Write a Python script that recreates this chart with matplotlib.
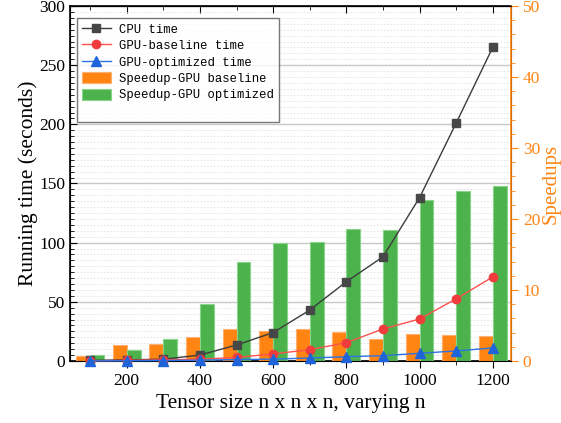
import numpy as np
import matplotlib.pyplot as plt
from matplotlib.lines import Line2D
from matplotlib.ticker import MultipleLocator

# Datos
sizes = [100, 200, 300, 400, 500, 600, 700, 800, 900, 1000, 1100, 1200]
cpu_time = [0.5, 1.0, 1.5, 5.0, 13.5, 24.0, 43.0, 67.0, 88.0, 138.0, 201.0, 265.0]
gpu_base_time = [0.2, 0.5, 1.0, 1.5, 3.0, 6.0, 9.5, 15.5, 27.0, 35.5, 52.5, 71.0]
gpu_opt_time = [0.1, 0.2, 0.4, 0.7, 1.2, 1.6, 2.5, 3.6, 4.5, 6.5, 8.5, 11.0]
speedup_base = [0.75, 2.25, 2.35, 3.4, 4.45, 4.2, 4.45, 4.15, 3.15, 3.75, 3.7, 3.5]
speedup_opt = [0.8, 1.55, 3.1, 8.0, 13.9, 16.65, 16.75, 18.6, 18.4, 22.7, 24.0, 24.6]

ORANGE = "#ff8412"
GREEN = "#4cb24c"
serif = "Liberation Serif"

fig = plt.figure(figsize=(5.61, 4.23), dpi=100)
ax1 = fig.add_axes([0.1248, 0.1466, 0.7861, 0.8392])

# Eje izquierdo: solo rejilla y etiquetas
ax1.set_xlim(45, 1250)
ax1.set_ylim(0, 300)
ax1.yaxis.set_major_locator(MultipleLocator(50))
ax1.yaxis.set_minor_locator(MultipleLocator(5))
ax1.xaxis.set_major_locator(MultipleLocator(200))
ax1.xaxis.set_minor_locator(MultipleLocator(100))
ax1.grid(True, which="major", axis="y", color="#c8c8c8", lw=1.0)
ax1.grid(True, which="minor", axis="y", color="#e2e2e2", lw=0.6, linestyle=(0, (2, 2)))
ax1.set_axisbelow(True)
ax1.tick_params(axis="y", which="both", direction="in", left=True, right=False)
ax1.tick_params(axis="y", which="major", length=5)
ax1.tick_params(axis="y", which="minor", length=3)
ax1.tick_params(axis="x", which="both", direction="out", bottom=True)
ax1.tick_params(axis="x", which="major", length=5)
ax1.tick_params(axis="x", which="minor", length=3)
ax1.tick_params(labelsize=12.5)
for lab in ax1.get_xticklabels() + ax1.get_yticklabels():
    lab.set_fontfamily(serif)
ax1.set_xlabel("Tensor size n x n x n, varying n", fontsize=15.5, family=serif)
ax1.set_ylabel("Running time (seconds)", fontsize=15.5, family=serif, labelpad=1)

# Ticks superiores hacia dentro
top = ax1.secondary_xaxis("top")
top.xaxis.set_major_locator(MultipleLocator(200))
top.xaxis.set_minor_locator(MultipleLocator(100))
top.tick_params(which="both", direction="in", labeltop=False)
top.tick_params(which="major", length=5)
top.tick_params(which="minor", length=3)

# Eje derecho: barras de speedup
ax2 = ax1.twinx()
w = 38
x = np.array(sizes)
ax2.bar(x - w / 2, speedup_base, width=w, color=ORANGE, edgecolor="#ffb070", lw=0.8,
        label="Speedup-GPU baseline")
ax2.bar(x + w / 2, speedup_opt, width=w, color=GREEN, edgecolor="#88d488", lw=0.8,
        label="Speedup-GPU optimized")
ax2.set_ylim(0, 50)
ax2.yaxis.set_major_locator(MultipleLocator(10))
ax2.yaxis.set_minor_locator(MultipleLocator(2))
ax2.tick_params(axis="y", which="both", colors=ORANGE, direction="out")
ax2.tick_params(axis="y", which="major", length=5)
ax2.tick_params(axis="y", which="minor", length=3)
ax2.tick_params(labelsize=12.5)
for lab in ax2.get_yticklabels():
    lab.set_fontfamily(serif)
ax2.spines["right"].set_color(ORANGE)
ax2.spines["right"].set_linewidth(1.2)
ax2.set_ylabel("Speedups", fontsize=15, family=serif, color=ORANGE, labelpad=1)

# Lineas por encima de las barras
ax3 = ax1.twinx()
ax3.set_ylim(0, 300)
ax3.set_axis_off()
ax3.plot(sizes, cpu_time, color="#3c3c3c", lw=1.0, marker="s", ms=6,
         mfc="#474747", mec="#474747", label="CPU time", clip_on=False)
ax3.plot(sizes, gpu_base_time, color="#ff5050", lw=1.0, marker="o", ms=6,
         mfc="#f03c3c", mec="#f03c3c", label="GPU-baseline time", clip_on=False)
ax3.plot(sizes, gpu_opt_time, color="#2a72e6", lw=1.0, marker="^", ms=7,
         mfc="#1f64d8", mec="#1f64d8", label="GPU-optimized time", clip_on=False)

for sp in ["left", "bottom", "top"]:
    ax1.spines[sp].set_linewidth(1.2)

h3, l3 = ax3.get_legend_handles_labels()
h2, l2 = ax2.get_legend_handles_labels()
blank = Line2D([], [], color="none")
leg = ax3.legend(h3 + h2 + [blank], l3 + l2 + [" "], loc="upper left",
                 bbox_to_anchor=(0.015, 0.965),
                 prop={"family": "Liberation Mono", "size": 8.8},
                 frameon=True, fancybox=False, edgecolor="#555555",
                 handlelength=2.4, handleheight=1.0, handletextpad=0.7,
                 labelspacing=0.3, borderpad=0.4, borderaxespad=0)
leg.get_frame().set_linewidth(1.0)

fig.savefig("out.png", dpi=100)
